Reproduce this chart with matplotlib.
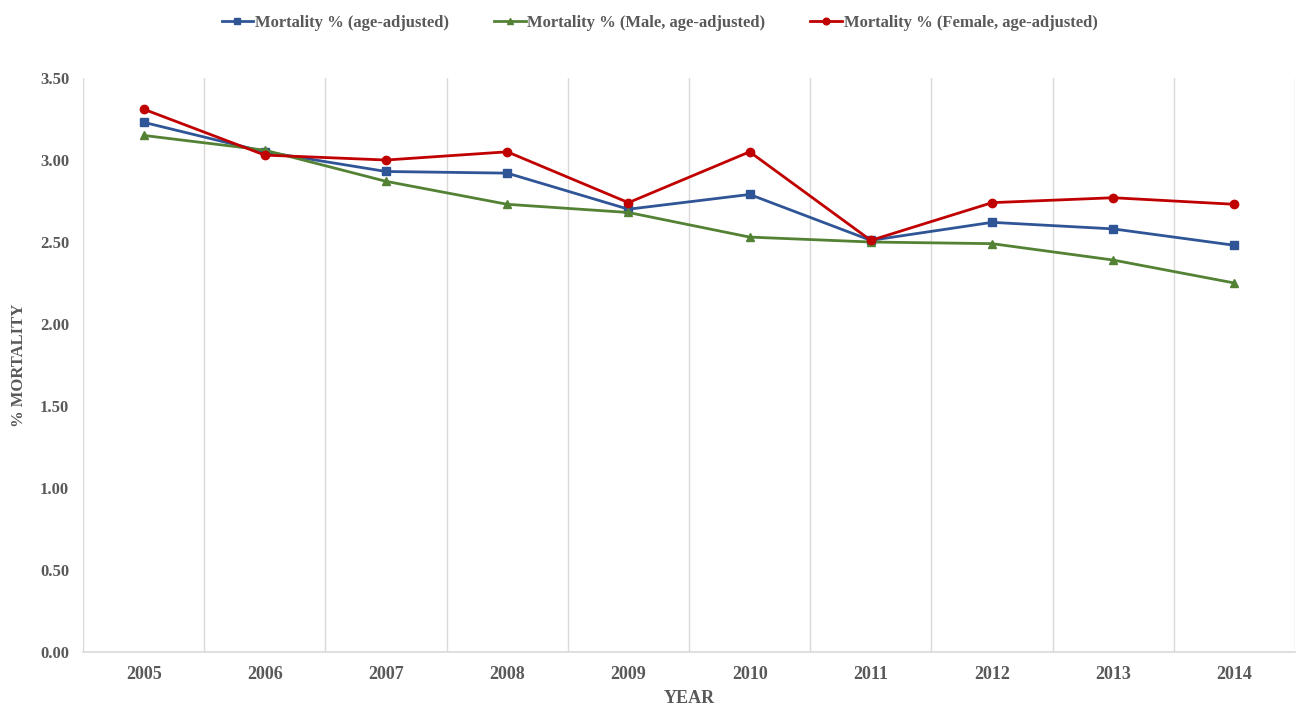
import matplotlib
matplotlib.use("Agg")
import matplotlib.pyplot as plt

years = ["2005", "2006", "2007", "2008", "2009", "2010", "2011", "2012", "2013", "2014"]
overall = [3.23, 3.05, 2.93, 2.92, 2.70, 2.79, 2.51, 2.62, 2.58, 2.48]
male = [3.15, 3.06, 2.87, 2.73, 2.68, 2.53, 2.50, 2.49, 2.39, 2.25]
female = [3.31, 3.03, 3.00, 3.05, 2.74, 3.05, 2.51, 2.74, 2.77, 2.73]
yticks = [0.0, 0.5, 1.0, 1.5, 2.0, 2.5, 3.0, 3.5]

plt.rcParams["font.family"] = ["Liberation Serif", "DejaVu Serif"]
text_color = "#595959"

fig = plt.figure(figsize=(13.06, 7.08), dpi=100)
ax = fig.add_axes([0.0636, 0.0791, 0.928, 0.8107])

x = list(range(len(years)))
ax.plot(x, overall, color="#2F5597", lw=2.0, marker="s", ms=6,
        label="Mortality % (age-adjusted)", zorder=3)
ax.plot(x, male, color="#548235", lw=2.0, marker="^", ms=6,
        label="Mortality % (Male, age-adjusted)", zorder=3)
ax.plot(x, female, color="#C00000", lw=2.0, marker="o", ms=6,
        label="Mortality % (Female, age-adjusted)", zorder=4)

ax.set_xlim(-0.5, len(years) - 0.5)
ax.set_ylim(0, 3.5)
ax.set_xticks(x)
ax.set_xticklabels(years)
ax.set_yticks(yticks)
ax.set_yticklabels([f"{v:.2f}" for v in yticks])

# vertical separators between categories
for b in [i - 0.5 for i in range(len(years) + 1)]:
    ax.axvline(b, color="#D9D9D9", lw=1.0, zorder=1)

for s in ["top", "right", "left"]:
    ax.spines[s].set_visible(False)
ax.spines["bottom"].set_color("#D9D9D9")
ax.spines["bottom"].set_linewidth(1.2)

ax.tick_params(axis="both", length=0, labelcolor=text_color, labelsize=12)
ax.tick_params(axis="x", pad=10)
ax.tick_params(axis="y", pad=10)
for lbl in ax.get_xticklabels() + ax.get_yticklabels():
    lbl.set_fontweight("bold")
for lbl in ax.get_xticklabels():
    lbl.set_fontsize(13)

ax.set_xlabel("YEAR", color=text_color, fontsize=13, fontweight="bold", labelpad=5)
ax.set_ylabel("% MORTALITY", color=text_color, fontsize=12, fontweight="bold", labelpad=9)

leg = fig.legend(loc="upper center", bbox_to_anchor=(0.505, 1.0), ncol=3, frameon=False,
                 prop={"size": 12, "weight": "bold"}, columnspacing=2.7,
                 handlelength=1.9, handletextpad=0.1, markerscale=0.8)
for t in leg.get_texts():
    t.set_color(text_color)

fig.savefig("out.png", dpi=100, facecolor="white")
